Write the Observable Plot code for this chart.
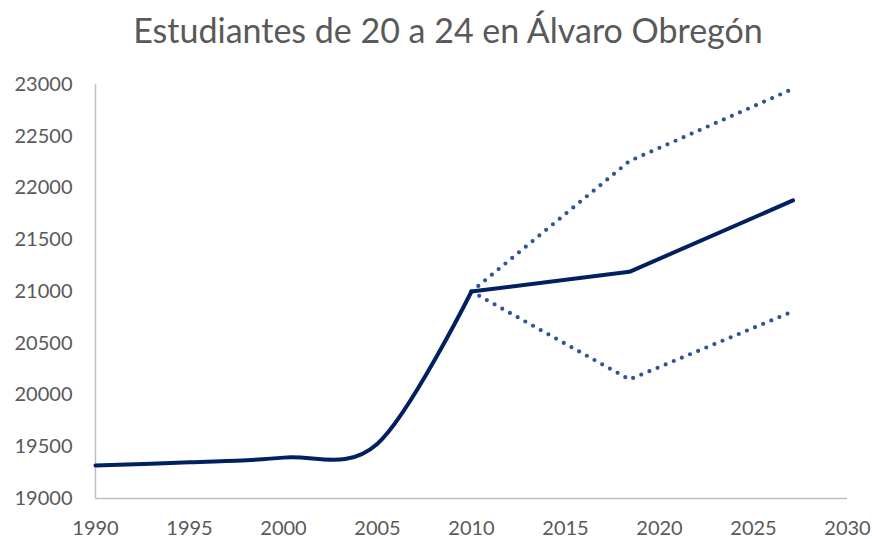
<!DOCTYPE html>
<html><head><meta charset="utf-8">
<script src="https://cdn.jsdelivr.net/npm/d3@7"></script>
<script src="https://cdn.jsdelivr.net/npm/@observablehq/plot@0.6"></script>
<style>
body{margin:0;background:#fff;font-family:Lato,"Open Sans",sans-serif;}
#title{height:66px;line-height:60px;text-align:center;font-size:34px;color:#595959;width:848px;padding-left:24px;white-space:nowrap;}
</style></head>
<body>
<div id="title">Estudiantes de 20 a 24 en Álvaro Obregón</div>
<div id="chart"></div>
<script>
const histYears = [1990, 1995, 2000, 2005, 2010];
const histValues = [19320, 19350, 19395, 19530, 21000];
const projYears = [2010, 2018.4, 2027.1];
const projValues = [21000, 21190, 21880];
const altoYears = [2010, 2018.4, 2027];
const alto = [21000, 22260, 22950];
const bajo = [21000, 20150, 20800];
const xTicks = [1990, 1995, 2000, 2005, 2010, 2015, 2020, 2025, 2030];
const yTicks = [19000, 19500, 20000, 20500, 21000, 21500, 22000, 22500, 23000];

const hist = histYears.map((x, i) => ({x, y: histValues[i]}));
const proj = projYears.map((x, i) => ({x, y: projValues[i]}));
const hi = altoYears.map((x, i) => ({x, y: alto[i]}));
const lo = altoYears.map((x, i) => ({x, y: bajo[i]}));

const chart = Plot.plot({
  width: 872,
  height: 473,
  marginTop: 18,
  marginBottom: 41,
  marginLeft: 95,
  marginRight: 25,
  style: {fontFamily: "Lato, sans-serif", fontSize: "20px", color: "#595959", background: "#fff"},
  x: {domain: [1990, 2030], ticks: xTicks, tickFormat: d => String(d), label: null, tickSize: 0, tickPadding: 22},
  y: {domain: [19000, 23000], ticks: yTicks, tickFormat: d => String(d), label: null, tickSize: 0, tickPadding: 23},
  marks: [
    Plot.ruleX([1990], {stroke: "#bfbfbf", strokeWidth: 1.5}),
    Plot.ruleY([19000], {stroke: "#bfbfbf", strokeWidth: 1.5}),
    Plot.line(hi, {x: "x", y: "y", stroke: "#2F5597", strokeWidth: 4.2, strokeDasharray: "0,8.8", strokeLinecap: "round"}),
    Plot.line(lo, {x: "x", y: "y", stroke: "#2F5597", strokeWidth: 4.2, strokeDasharray: "0,8.8", strokeLinecap: "round"}),
    Plot.line(hist, {x: "x", y: "y", stroke: "#002060", strokeWidth: 4, curve: "cardinal", strokeLinecap: "round"}),
    Plot.line(proj, {x: "x", y: "y", stroke: "#002060", strokeWidth: 4, strokeLinecap: "round", strokeLinejoin: "round"})
  ]
});
document.getElementById("chart").appendChild(chart);
</script>
</body></html>
